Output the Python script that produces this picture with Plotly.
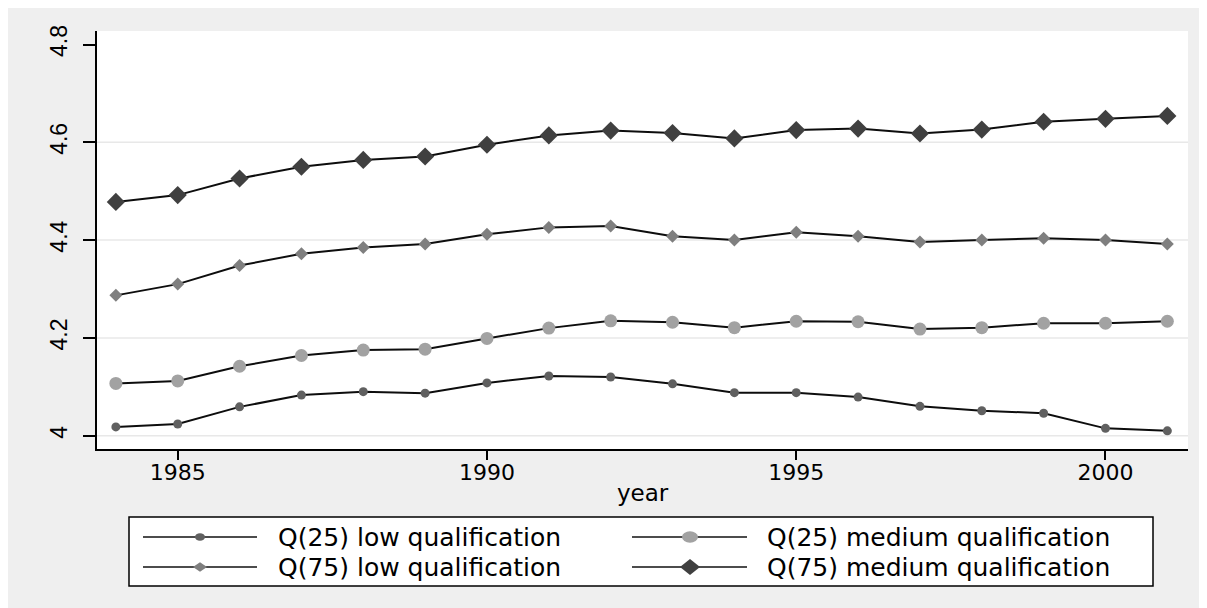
import plotly.graph_objects as go

years = list(range(1984, 2002))
q25_low = [4.018, 4.024, 4.059, 4.083, 4.090, 4.087, 4.108, 4.122, 4.120, 4.106,
           4.088, 4.088, 4.079, 4.060, 4.051, 4.046, 4.015, 4.010]
q25_med = [4.107, 4.112, 4.142, 4.164, 4.175, 4.177, 4.199, 4.220, 4.235, 4.232,
           4.221, 4.234, 4.233, 4.218, 4.221, 4.230, 4.230, 4.234]
q75_low = [4.287, 4.310, 4.348, 4.372, 4.385, 4.392, 4.412, 4.426, 4.429, 4.408,
           4.400, 4.416, 4.408, 4.396, 4.400, 4.404, 4.400, 4.392]
q75_med = [4.478, 4.492, 4.526, 4.550, 4.564, 4.571, 4.595, 4.614, 4.624, 4.619,
           4.608, 4.625, 4.628, 4.618, 4.626, 4.642, 4.648, 4.654]

series_names = ["Q(25) low qualification", "Q(25) medium qualification",
                "Q(75) low qualification", "Q(75) medium qualification"]
x_ticks = [1985, 1990, 1995, 2000]
y_ticks = [4.0, 4.2, 4.4, 4.6, 4.8]
y_ticktext = ["4", "4.2", "4.4", "4.6", "4.8"]
grid_vals = [4.0, 4.2, 4.4, 4.6]

styles = [
    dict(symbol="circle", size=9, color="#606060"),
    dict(symbol="circle", size=13, color="#a2a2a2"),
    dict(symbol="diamond", size=10, color="#7f7f7f"),
    dict(symbol="diamond", size=14, color="#404040"),
]
all_series = [q25_low, q25_med, q75_low, q75_med]

W, H = 1207, 608
OFF = 8  # page body margin
# plot area in screen pixels
SL, SR, ST, SB = 97, 1188, 31, 449
L, R, T, B = SL - OFF, SR - OFF, ST - OFF, SB - OFF


def px(x):
    return (x - SL) / (SR - SL)


def py(y):
    return (SB - y) / (SB - ST)


fig = go.Figure()
for name, vals, st in zip(series_names, all_series, styles):
    fig.add_trace(go.Scatter(
        x=years, y=vals, name=name, mode="lines+markers",
        line=dict(color="#0d0d0d", width=2),
        marker=dict(symbol=st["symbol"], size=st["size"], color=st["color"],
                    line=dict(width=0)),
        showlegend=False,
    ))

shapes = []
for g in grid_vals:
    shapes.append(dict(type="line", xref="paper", yref="y", x0=0, x1=1, y0=g, y1=g,
                       line=dict(color="#e8e8e8", width=1.5), layer="below"))
shapes.append(dict(type="rect", xref="paper", yref="paper", x0=px(129), x1=px(1153),
                   y0=py(586), y1=py(517), fillcolor="white",
                   line=dict(color="black", width=1.5), layer="above"))

legend_cols = [(143, 257, 200, 276), (632, 747, 690, 765)]
legend_rows = [537, 567]
leg_sizes = [(10, 7.5), (16, 11.5), (14, 9.5), (20, 16)]
annotations = []
for i, (name, st) in enumerate(zip(series_names, styles)):
    row, col = i // 2, i % 2
    x0, x1, xm, xt = legend_cols[col]
    yc = legend_rows[row]
    shapes.append(dict(type="line", xref="paper", yref="paper", x0=px(x0), x1=px(x1),
                       y0=py(yc), y1=py(yc), line=dict(color="#111111", width=1.5),
                       layer="above"))
    w, h = leg_sizes[i]
    if st["symbol"] == "circle":
        shapes.append(dict(type="circle", xref="paper", yref="paper",
                           x0=px(xm - w / 2), x1=px(xm + w / 2),
                           y0=py(yc + h / 2), y1=py(yc - h / 2),
                           fillcolor=st["color"], line=dict(width=0), layer="above"))
    else:
        path = "M {a},{b} L {c},{d} L {e},{f} L {g},{h} Z".format(
            a=px(xm - w / 2), b=py(yc), c=px(xm), d=py(yc - h / 2),
            e=px(xm + w / 2), f=py(yc), g=px(xm), h=py(yc + h / 2))
        shapes.append(dict(type="path", xref="paper", yref="paper", path=path,
                           fillcolor=st["color"], line=dict(width=0), layer="above"))
    annotations.append(dict(text=name, xref="paper", yref="paper", x=px(xt), y=py(yc),
                            xanchor="left", yanchor="middle", showarrow=False,
                            font=dict(family="DejaVu Sans", size=25, color="black")))

annotations.append(dict(text="year", xref="paper", yref="paper", x=0.5, y=py(493),
                        xanchor="center", yanchor="middle", showarrow=False,
                        font=dict(family="DejaVu Sans", size=23, color="black")))

fig.update_layout(
    width=W, height=H,
    margin=dict(l=L, r=W - R, t=T, b=H - B, pad=0),
    paper_bgcolor="#efefef", plot_bgcolor="white",
    shapes=shapes, annotations=annotations, showlegend=False,
    xaxis=dict(range=[1983.695, 2001.334], tickvals=x_ticks, ticks="outside",
               ticklen=9, tickwidth=1.5, tickcolor="black", showgrid=False,
               zeroline=False, showline=True, linecolor="black", linewidth=1.5,
               ticklabelstandoff=-6,
               tickfont=dict(family="DejaVu Sans", size=22, color="black")),
    yaxis=dict(range=[3.9728, 4.8276], tickvals=y_ticks, ticktext=y_ticktext,
               tickangle=-90, ticks="outside", ticklen=12, tickwidth=1.5,
               tickcolor="black", showgrid=False, zeroline=False, showline=True,
               linecolor="black", linewidth=1.5, ticklabelstandoff=7,
               tickfont=dict(family="Liberation Sans", size=23, color="black")),
)

fig.write_html("out.html")
